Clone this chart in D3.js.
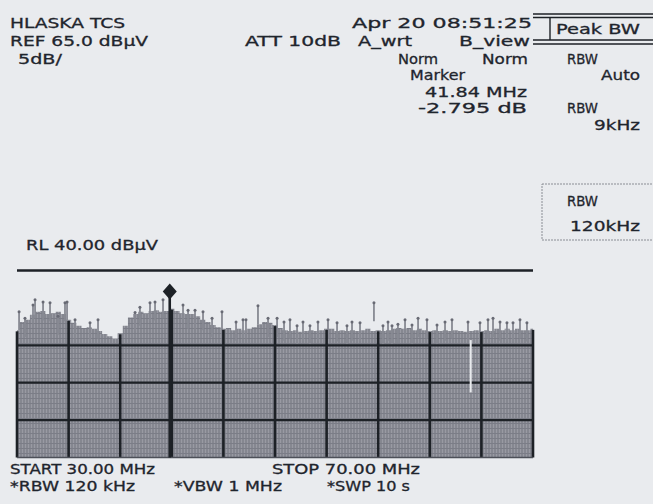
<!DOCTYPE html>
<html>
<head>
<meta charset="utf-8">
<script src="https://cdn.jsdelivr.net/npm/d3@7"></script>
<style>
  body { margin: 0; background: #e9ebee; }
  svg text {
    font-family: "DejaVu Sans", sans-serif; font-size: 14px;
    fill: #1f252d; stroke: #1f252d; stroke-width: 0.3px;
  }
</style>
</head>
<body>
<div id="chart"></div>
<script>
// sweep settings
const startMHz = 30, stopMHz = 70;
const refLevel = 40, dbPerDiv = 5, shownDivs = 5;
const markerMHz = 41.84, markerDelta = -2.795;

// trace envelope, one value every 0.4 MHz from 30 to 70 MHz (dBuV)
const traceLevels = [
  32.0, 33.1, 33.4, 34.1, 34.5, 34.6, 34.2, 34.3, 34.5, 34.2,
  33.4, 33.0, 32.6, 32.3, 32.4, 32.2, 31.9, 31.5, 31.2, 30.9,
  31.6, 32.6, 33.7, 34.2, 34.5, 34.3, 34.6, 34.7, 34.5, 34.6,
  34.9, 34.6, 34.3, 34.2, 34.2, 33.9, 33.4, 33.1, 32.7, 32.4,
  32.2, 32.3, 32.0, 32.2, 32.0, 32.2, 32.4, 32.8, 33.1, 33.0,
  32.7, 32.3, 32.0, 31.9, 32.0, 31.8, 31.9, 32.0, 31.9, 32.0,
  32.2, 32.2, 31.9, 32.0, 31.9, 32.0, 31.9, 32.0, 32.2, 31.9,
  32.0, 31.9, 32.0, 32.2, 32.3, 32.2, 32.3, 32.0, 32.2, 32.0,
  31.9, 32.0, 31.9, 32.0, 31.9, 32.0, 31.9, 31.8, 31.9, 32.0,
  31.9, 32.0, 31.9, 32.2, 32.0, 32.2, 32.0, 32.2, 32.0, 32.0,
  32.2
];

// narrow spurs standing above the envelope: [MHz, dBuV]
const spikes = [
  [30.16, 34.5], [30.62, 33.6], [31.24, 35.4], [31.40, 36.1], [32.02, 35.8],
  [32.56, 35.7], [33.18, 33.9], [33.72, 35.7], [33.88, 35.8], [34.50, 33.4],
  [35.66, 33.0], [36.28, 33.4], [39.15, 34.4], [39.53, 35.1], [40.31, 35.7],
  [40.70, 35.8], [41.32, 36.1], [42.87, 35.4], [43.26, 34.7], [43.80, 34.7],
  [44.42, 34.5], [45.12, 33.6], [45.89, 34.5], [46.98, 33.1], [47.52, 33.4],
  [47.75, 33.4], [48.68, 35.3], [49.46, 33.6], [50.16, 33.6], [50.70, 33.1],
  [51.16, 33.4], [51.71, 32.6], [52.17, 33.1], [52.71, 32.6], [53.33, 33.1],
  [54.11, 33.4], [54.81, 33.0], [55.58, 32.6], [55.97, 33.1], [56.59, 33.0],
  [57.67, 35.7], [58.37, 32.6], [58.76, 33.1], [59.07, 32.6], [59.53, 32.8],
  [60.08, 33.4], [60.62, 32.7], [61.09, 33.6], [61.78, 33.4], [62.56, 32.7],
  [63.18, 33.1], [63.72, 33.4], [64.96, 33.1], [65.89, 33.0], [66.51, 33.4],
  [66.90, 33.6], [67.44, 33.1], [67.98, 33.0], [68.45, 33.0], [68.99, 33.4],
  [69.53, 33.0]
];

const gridFreqs = [30, 34, 38, 42, 46, 50, 54, 58, 62, 66, 70];
const gridLevels = [30, 25, 20];
const scanGap = [65.17, 30.7, 23.7];

const header1 = ["HLASKA TCS", "Apr 20 08:51:25"];
const header2 = ["REF 65.0 dB\u00b5V", "ATT 10dB", "A_wrt", "B_view"];
const header3 = ["5dB/", "Norm", "Norm"];
const markerText = ["Marker", "41.84 MHz", "-2.795 dB"];
const softkeys = ["Peak BW", "RBW", "Auto", "RBW", "9kHz", "RBW", "120kHz"];
const rlText = "RL 40.00 dB\u00b5V";
const footer = ["START 30.00 MHz", "STOP 70.00 MHz", "*RBW 120 kHz", "*VBW 1 MHz", "*SWP 10 s"];

const W = 653, H = 504;
const ink = "#1d2126";
const svg = d3.select("#chart").append("svg")
    .attr("width", W).attr("height", H);

// printed fill texture
const defs = svg.append("defs");
const pat = defs.append("pattern").attr("id", "tex")
    .attr("patternUnits", "userSpaceOnUse").attr("width", 3).attr("height", 5);
pat.append("rect").attr("width", 3).attr("height", 5).attr("fill", "#858790");
pat.append("rect").attr("x", 1).attr("width", 1).attr("height", 5).attr("fill", "#999aa3");
pat.append("rect").attr("y", 3).attr("width", 3).attr("height", 1).attr("fill", "#7b7d87");

const x = d3.scaleLinear().domain([startMHz, stopMHz]).range([17, 533]);
const y = d3.scaleLinear()
    .domain([refLevel - dbPerDiv * shownDivs, refLevel])
    .range([457.5, 270.5]);
const step = (stopMHz - startMHz) / (traceLevels.length - 1);
const fOf = i => startMHz + i * step;
const bottom = y(refLevel - dbPerDiv * shownDivs);

// trace fill
svg.append("path")
    .datum(traceLevels)
    .attr("fill", "url(#tex)")
    .attr("d", d3.area()
        .x((d, i) => x(fOf(i)))
        .y0(bottom)
        .y1(d => y(d))
        .curve(d3.curveStep));

// spurs
svg.append("g").selectAll("line").data(spikes).join("line")
    .attr("x1", d => x(d[0])).attr("x2", d => x(d[0]))
    .attr("y1", d => y(d[1])).attr("y2", d => y(d[1] - 2.5))
    .attr("stroke", "#878992").attr("stroke-width", 1.8);
svg.append("g").selectAll("circle").data(spikes).join("circle")
    .attr("cx", d => x(d[0])).attr("cy", d => y(d[1]))
    .attr("r", 1.5).attr("fill", "#686a74");

// grid: horizontal lines across, vertical lines up to the trace
svg.append("g").selectAll("line").data(gridLevels).join("line")
    .attr("x1", x(startMHz)).attr("x2", x(stopMHz))
    .attr("y1", d => y(d)).attr("y2", d => y(d))
    .attr("stroke", ink).attr("stroke-width", 2.2);
svg.append("g").selectAll("line").data(gridFreqs).join("line")
    .attr("x1", d => x(d)).attr("x2", d => x(d))
    .attr("y1", bottom)
    .attr("y2", d => y(traceLevels[Math.round((d - startMHz) / step)]) + 1)
    .attr("stroke", ink).attr("stroke-width", 2.6);
svg.append("line")
    .attr("x1", x(startMHz)).attr("x2", x(stopMHz))
    .attr("y1", bottom).attr("y2", bottom)
    .attr("stroke", "#4d5058").attr("stroke-width", 1.4);

// scan dropout
svg.append("line")
    .attr("x1", x(scanGap[0])).attr("x2", x(scanGap[0]))
    .attr("y1", y(scanGap[1])).attr("y2", y(scanGap[2]))
    .attr("stroke", "#e9ebee").attr("stroke-width", 2);

// reference level line
svg.append("line")
    .attr("x1", x(startMHz)).attr("x2", x(stopMHz))
    .attr("y1", y(refLevel)).attr("y2", y(refLevel))
    .attr("stroke", ink).attr("stroke-width", 2.6);

// marker
const mx = x(markerMHz), my = y(refLevel + markerDelta);
svg.append("line")
    .attr("x1", mx).attr("x2", mx).attr("y1", my).attr("y2", bottom)
    .attr("stroke", ink).attr("stroke-width", 2.6);
svg.append("path")
    .attr("d", `M${mx},${my - 8}L${mx + 7},${my}L${mx},${my + 8}L${mx - 7},${my}Z`)
    .attr("fill", ink);

// texts, widened to the printed widths (the printer font is broad)
function put(t, tx, ty, w) {
  const el = svg.append("text").attr("x", tx).attr("y", ty).text(t);
  if (w) el.attr("textLength", w).attr("lengthAdjust", "spacingAndGlyphs");
}
put(header1[0], 10, 28, 115);
put(header1[1], 352, 28, 180);
put(header2[0], 10, 46, 138);
put(header2[1], 245, 46, 96);
put(header2[2], 358, 46, 54);
put(header2[3], 459, 46, 71);
put(header3[0], 18, 64, 44);
put(header3[1], 398, 64, 40);
put(header3[2], 482, 64, 46);
put(markerText[0], 410, 80, 55);
put(markerText[1], 425, 96.5, 102);
put(markerText[2], 418, 113, 109);
put(rlText, 26, 250, 132);
put(footer[0], 10, 474, 145);
put(footer[1], 272, 474, 148);
put(footer[2], 10, 491, 125);
put(footer[3], 174, 491, 108);
put(footer[4], 327, 491, 83);

// softkey panel
[14, 17.5, 40, 44].forEach(ly => {
  svg.append("line").attr("x1", 533).attr("x2", W).attr("y1", ly).attr("y2", ly)
      .attr("stroke", ink).attr("stroke-width", 1.6);
});
svg.append("line").attr("x1", 550).attr("x2", 550).attr("y1", 17.5).attr("y2", 40)
    .attr("stroke", ink).attr("stroke-width", 1.4);
put(softkeys[0], 556, 34, 84);
put(softkeys[1], 567, 64, 31);
put(softkeys[2], 601, 80, 39);
put(softkeys[3], 567, 113, 31);
put(softkeys[4], 594, 130, 46);
svg.append("rect").attr("x", 542).attr("y", 184).attr("width", 120).attr("height", 56)
    .attr("fill", "none").attr("stroke", "#8a8d94").attr("stroke-width", 1)
    .attr("stroke-dasharray", "2,1");
put(softkeys[5], 567, 206, 31);
put(softkeys[6], 570, 231, 70);
</script>
</body>
</html>
